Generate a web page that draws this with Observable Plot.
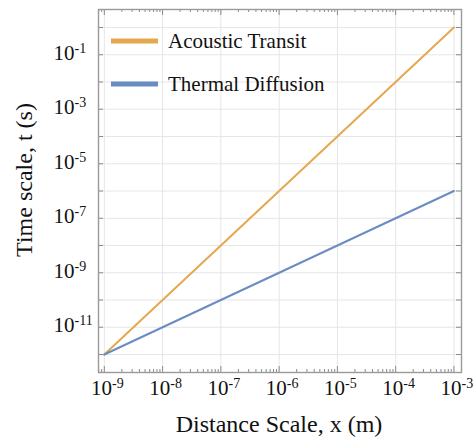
<!DOCTYPE html>
<html>
<head>
<meta charset="utf-8">
<script src="https://cdn.jsdelivr.net/npm/d3@7"></script>
<script src="https://cdn.jsdelivr.net/npm/@observablehq/plot@0.6"></script>
<style>
  html, body { margin: 0; padding: 0; background: #fff; }
  #chart { width: 474px; height: 440px; }
</style>
</head>
<body>
<div id="chart"></div>
<script>
// ---- data ----
const distance = [1e-9, 1e-3];              // x (m)
const acousticTransit = [1e-12, 1e0];       // t (s)
const thermalDiffusion = [1e-12, 1e-6];     // t (s)
const seriesNames = ["Acoustic Transit", "Thermal Diffusion"];
const seriesColors = ["#e6a84f", "#6b8cc3"];
const xDecadeExps = [-9, -8, -7, -6, -5, -4, -3];
const xLabelExps = [-9, -8, -7, -6, -5, -4, -3];
const yDecadeExps = [-12, -11, -10, -9, -8, -7, -6, -5, -4, -3, -2, -1, 0];
const yLabelExps = [-11, -9, -7, -5, -3, -1];
const minorMultipliers = [2, 3, 4, 5, 6, 7, 8, 9];
const xTitle = "Distance Scale, x (m)";
const yTitle = "Time scale, t (s)";

const rows = [];
distance.forEach((x, i) => {
  rows.push({series: seriesNames[0], x, t: acousticTransit[i]});
  rows.push({series: seriesNames[1], x, t: thermalDiffusion[i]});
});

const xDomain = [10 ** -9.1, 10 ** -2.87];
const yDomain = [10 ** -12.66, 10 ** 0.66];
const xMajor = xDecadeExps.map(e => 10 ** e);
const xMinor = [-10, ...xDecadeExps].flatMap(e => minorMultipliers.map(m => m * 10 ** e))
  .filter(v => v >= xDomain[0] && v <= xDomain[1]);
const yMajor = yDecadeExps.map(e => 10 ** e);

const W = 474, H = 440, mL = 98, mR = 13, mT = 9, mB = 68;
const innerH = H - mT - mB, innerW = W - mL - mR;
const tickColor = "#8a8a8a";
const serif = "'Liberation Serif', 'Times New Roman', serif";

const chart = Plot.plot({
  width: W, height: H,
  marginLeft: mL, marginRight: mR, marginTop: mT, marginBottom: mB,
  style: {fontFamily: serif, background: "#fff", color: "#111"},
  x: {type: "log", domain: xDomain, axis: null},
  y: {type: "log", domain: yDomain, axis: null},
  color: {domain: seriesNames, range: seriesColors},
  marks: [
    Plot.gridX(xMajor, {stroke: "#e6e6e6", strokeOpacity: 1}),
    Plot.gridY(yMajor, {stroke: "#e6e6e6", strokeOpacity: 1}),
    Plot.line(rows, {x: "x", y: "t", z: "series", stroke: "series", strokeWidth: 2}),
    // inward ticks, bottom/top
    Plot.tickX(xMajor, {x: d => d, insetTop: innerH - 6, stroke: tickColor}),
    Plot.tickX(xMajor, {x: d => d, insetBottom: innerH - 6, stroke: tickColor}),
    Plot.tickX(xMinor, {x: d => d, insetTop: innerH - 3, stroke: tickColor}),
    Plot.tickX(xMinor, {x: d => d, insetBottom: innerH - 3, stroke: tickColor}),
    // inward ticks, left/right
    Plot.tickY(yMajor, {y: d => d, insetRight: innerW - 5, stroke: tickColor}),
    Plot.tickY(yMajor, {y: d => d, insetLeft: innerW - 5, stroke: tickColor}),
    Plot.frame({stroke: "#9a9a9a", strokeWidth: 1.4}),
    // tick labels
    Plot.text(xLabelExps, {x: e => 10 ** e, text: e => `10^${e}`, frameAnchor: "bottom",
      lineAnchor: "bottom", dy: 22, dx: 3, fontSize: 21, fill: "#111"}),
    Plot.text(yLabelExps, {y: e => 10 ** e, text: e => `10^${e}`, frameAnchor: "left",
      lineAnchor: "bottom", textAnchor: "start", dx: -45, dy: 5, fontSize: 21, fill: "#111"})
  ]
});

document.getElementById("chart").appendChild(chart);

// superscripts for tick labels
const svg = d3.select(chart);
svg.selectAll("text").each(function () {
  const m = /^10\^(-?\d+)$/.exec(this.textContent);
  if (!m) return;
  const el = d3.select(this);
  el.text(null);
  el.append("tspan").text("10");
  el.append("tspan").attr("dy", -7).attr("font-size", 14).text(m[1]);
});

// axis titles
svg.append("text")
  .attr("x", 279).attr("y", 432)
  .attr("text-anchor", "middle").attr("font-family", serif)
  .attr("font-size", 24).attr("fill", "#111")
  .text(xTitle);
svg.append("text")
  .attr("transform", "translate(32,180) rotate(-90)")
  .attr("text-anchor", "middle").attr("font-family", serif)
  .attr("font-size", 24).attr("fill", "#111")
  .text(yTitle);

// legend inside the plot
const legend = svg.append("g").attr("text-anchor", "start").attr("font-family", serif);
seriesNames.forEach((name, i) => {
  const y = 41 + i * 43;
  legend.append("line").attr("x1", 111).attr("x2", 158).attr("y1", y).attr("y2", y)
    .attr("stroke", seriesColors[i]).attr("stroke-width", 5);
  legend.append("text").attr("x", 168).attr("y", y + 7).attr("text-anchor", "start")
    .attr("font-size", 21).attr("fill", "#111").text(name);
});
</script>
</body>
</html>
